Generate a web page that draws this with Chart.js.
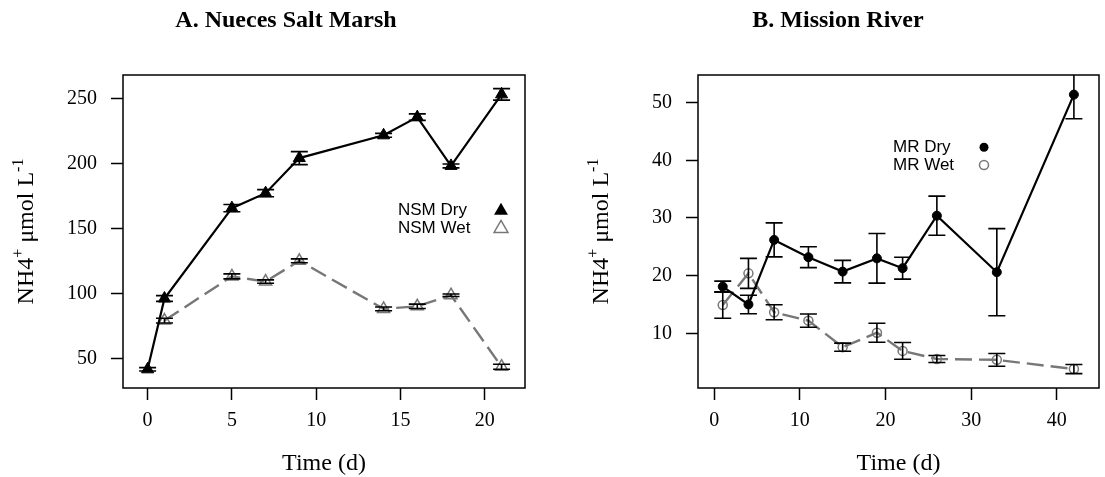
<!DOCTYPE html>
<html>
<head>
<meta charset="utf-8">
<script src="https://cdn.jsdelivr.net/npm/chart.js@4.4.1/dist/chart.umd.min.js"></script>
<style>
body { margin: 0; background: #fff; }
#wrap { position: relative; width: 1105px; height: 477px; }
canvas { position: absolute; top: 0; }
</style>
</head>
<body>
<div id="wrap">
<canvas id="chartA" width="552" height="477" style="left:0"></canvas>
<canvas id="chartB" width="553" height="477" style="left:552px"></canvas>
</div>
<script>
// A. Nueces Salt Marsh
const nsmDryTime = [0, 1, 5, 7, 9, 14, 16, 18, 21];
const nsmDry = [41.5, 96, 165.5, 177, 204, 221.5, 235.5, 198, 253];
const nsmDryErr = [1.3, 2.2, 2.8, 2.7, 5, 1.5, 2.5, 1.5, 4.4];
const nsmWetTime = [1, 5, 7, 9, 14, 16, 18, 21];
const nsmWet = [79, 113, 109, 125, 88, 90, 98.5, 43.5];
const nsmWetErr = [1.8, 1.9, 1.3, 1.5, 1.4, 1.7, 1, 1.9];
const nsmXTicks = [0, 5, 10, 15, 20];
const nsmYTicks = [50, 100, 150, 200, 250];

// B. Mission River
const mrTime = [1, 4, 7, 11, 15, 19, 22, 26, 33, 42];
const mrDry = [18.1, 15, 26.2, 23.2, 20.7, 23, 21.3, 30.4, 20.6, 51.4];
const mrDryErr = [0.95, 1.6, 2.95, 1.8, 1.95, 4.3, 1.9, 3.4, 7.55, 4.2];
const mrWet = [14.9, 20.4, 13.65, 12.2, 7.6, 10.1, 6.95, 5.55, 5.4, 3.8];
const mrWetErr = [2.3, 2.6, 1.3, 1.15, 0.7, 1.65, 1.45, 0.6, 1.1, 0.8];
const mrXTicks = [0, 10, 20, 30, 40];
const mrYTicks = [10, 20, 30, 40, 50];

const GREY = '#777777';
const SERIF = '"Liberation Serif", "Times New Roman", serif';
const SANS = '"Liberation Sans", Arial, sans-serif';

const toPoints = (xs, ys) => xs.map((x, i) => ({x: x, y: ys[i]}));

// error bars with caps, drawn over the markers like R's arrows()
const errorBars = {
  id: 'errorBars',
  afterDatasetsDraw(chart) {
    const {ctx, chartArea: a, scales: {x, y}} = chart;
    ctx.save();
    ctx.beginPath();
    ctx.rect(a.left, a.top, a.right - a.left, a.bottom - a.top);
    ctx.clip();
    ctx.strokeStyle = '#000';
    ctx.lineWidth = 1.6;
    chart.data.datasets.forEach(ds => {
      if (!ds.errors) return;
      ds.data.forEach((p, i) => {
        const px = x.getPixelForValue(p.x);
        const lo = y.getPixelForValue(p.y - ds.errors[i]);
        const hi = y.getPixelForValue(p.y + ds.errors[i]);
        ctx.beginPath();
        ctx.moveTo(px, lo); ctx.lineTo(px, hi);
        ctx.moveTo(px - 8.5, lo); ctx.lineTo(px + 8.5, lo);
        ctx.moveTo(px - 8.5, hi); ctx.lineTo(px + 8.5, hi);
        ctx.stroke();
      });
    });
    ctx.restore();
  }
};

function drawMarker(ctx, style, filled, x, y, r) {
  ctx.beginPath();
  if (style === 'triangle') {
    for (let k = 0; k < 3; k++) {
      const ang = -Math.PI / 2 + k * 2 * Math.PI / 3;
      const px = x + Math.cos(ang) * r, py = y + Math.sin(ang) * r;
      k ? ctx.lineTo(px, py) : ctx.moveTo(px, py);
    }
    ctx.closePath();
  } else {
    ctx.arc(x, y, r, 0, 2 * Math.PI);
  }
  if (filled) {
    ctx.fillStyle = '#000';
    ctx.fill();
  } else {
    ctx.strokeStyle = GREY;
    ctx.lineWidth = 1.5;
    ctx.stroke();
  }
}

// box, titles, axis labels, legend
const decor = {
  id: 'decor',
  afterDraw(chart, args, opts) {
    const {ctx, chartArea: a} = chart;
    ctx.save();
    ctx.strokeStyle = '#000';
    ctx.lineWidth = 1.5;
    ctx.strokeRect(a.left, a.top, a.right - a.left, a.bottom - a.top);

    ctx.fillStyle = '#000';
    ctx.textAlign = 'center';
    ctx.textBaseline = 'alphabetic';
    ctx.font = 'bold 24px ' + SERIF;
    ctx.fillText(opts.title, 286, 27);
    ctx.font = '24px ' + SERIF;
    ctx.fillText('Time (d)', (a.left + a.right) / 2, 470);

    // legend: label on the left, symbol on the right
    ctx.textAlign = 'left';
    ctx.textBaseline = 'middle';
    opts.legend.forEach(item => {
      ctx.fillStyle = '#000';
      ctx.font = '17px ' + SANS;
      ctx.fillText(item.text, opts.legendX, item.y);
      drawMarker(ctx, opts.marker, item.filled, opts.legendSymX, item.y, opts.legendR);
    });

    // rotated y label with superscripts
    ctx.translate(a.left - 90, (a.top + a.bottom) / 2);
    ctx.rotate(-Math.PI / 2);
    ctx.fillStyle = '#000';
    ctx.textAlign = 'left';
    ctx.textBaseline = 'alphabetic';
    const parts = [['NH4', false], ['+', true], [' \u03bcmol L', false], ['-1', true]];
    let total = 0;
    parts.forEach(([t, sup]) => {
      ctx.font = (sup ? '16px ' : '24px ') + SERIF;
      total += ctx.measureText(t).width;
    });
    let cx = -total / 2;
    parts.forEach(([t, sup]) => {
      ctx.font = (sup ? '16px ' : '24px ') + SERIF;
      ctx.fillText(t, cx, sup ? -10 : 0);
      cx += ctx.measureText(t).width;
    });
    ctx.restore();
  }
};

function axisOpts(min, max, tickValues, side) {
  return {
    type: 'linear',
    min: min,
    max: max,
    afterBuildTicks: s => { s.ticks = tickValues.map(v => ({value: v})); },
    afterFit: s => {
      if (side.width) s.width = side.width;
      if (side.height) s.height = side.height;
    },
    grid: {drawOnChartArea: false, drawTicks: true, tickLength: 12, tickColor: '#000', tickWidth: 1.5},
    border: {display: false},
    ticks: {color: '#000', font: {family: SERIF, size: 20}, padding: side.pad, maxRotation: 0, autoSkip: false}
  };
}

function makeChart(id, cfg) {
  new Chart(document.getElementById(id), {
    type: 'line',
    data: {
      datasets: [
        {
          data: toPoints(cfg.dryTime, cfg.dry),
          errors: cfg.dryErr,
          borderColor: '#000',
          borderWidth: 2.2,
          pointStyle: cfg.marker,
          pointRadius: cfg.pointR,
          pointBackgroundColor: '#000',
          pointBorderColor: '#000',
          pointBorderWidth: 1,
          tension: 0
        },
        {
          data: toPoints(cfg.wetTime, cfg.wet),
          errors: cfg.wetErr,
          borderColor: GREY,
          borderWidth: 2.4,
          borderDash: [17, 7],
          pointStyle: cfg.marker,
          pointRadius: cfg.pointR,
          pointBackgroundColor: 'rgba(0,0,0,0)',
          pointBorderColor: GREY,
          pointBorderWidth: 1.5,
          tension: 0
        }
      ]
    },
    options: {
      responsive: false,
      animation: false,
      layout: {padding: {top: 75, right: cfg.padRight, left: 0, bottom: 0}},
      scales: {
        x: axisOpts(cfg.xMin, cfg.xMax, cfg.xTicks, {height: 89, pad: 9}),
        y: axisOpts(cfg.yMin, cfg.yMax, cfg.yTicks, {width: cfg.yWidth, pad: 14})
      },
      plugins: {
        legend: {display: false},
        tooltip: {enabled: false},
        decor: {
          title: cfg.title,
          marker: cfg.marker,
          legendX: cfg.legendX,
          legendSymX: cfg.legendSymX,
          legendR: cfg.legendR,
          legend: [
            {text: cfg.dryName, y: cfg.legendY, filled: true},
            {text: cfg.wetName, y: cfg.legendY + 17.7, filled: false}
          ]
        }
      }
    },
    plugins: [errorBars, decor]
  });
}

makeChart('chartA', {
  title: 'A. Nueces Salt Marsh',
  dryName: 'NSM Dry', wetName: 'NSM Wet',
  dryTime: nsmDryTime, dry: nsmDry, dryErr: nsmDryErr,
  wetTime: nsmWetTime, wet: nsmWet, wetErr: nsmWetErr,
  xTicks: nsmXTicks, yTicks: nsmYTicks,
  xMin: -1.46, xMax: 22.39, yMin: 27.15, yMax: 267.9,
  marker: 'triangle', pointR: 7, legendR: 8,
  yWidth: 123, padRight: 27,
  legendX: 398, legendSymX: 501, legendY: 210.7
});

makeChart('chartB', {
  title: 'B. Mission River',
  dryName: 'MR Dry', wetName: 'MR Wet',
  dryTime: mrTime, dry: mrDry, dryErr: mrDryErr,
  wetTime: mrTime, wet: mrWet, wetErr: mrWetErr,
  xTicks: mrXTicks, yTicks: mrYTicks,
  xMin: -1.89, xMax: 44.93, yMin: 0.515, yMax: 54.8,
  marker: 'circle', pointR: 4.5, legendR: 4.5,
  yWidth: 146, padRight: 3,
  legendX: 341, legendSymX: 432, legendY: 147.3
});
</script>
</body>
</html>
